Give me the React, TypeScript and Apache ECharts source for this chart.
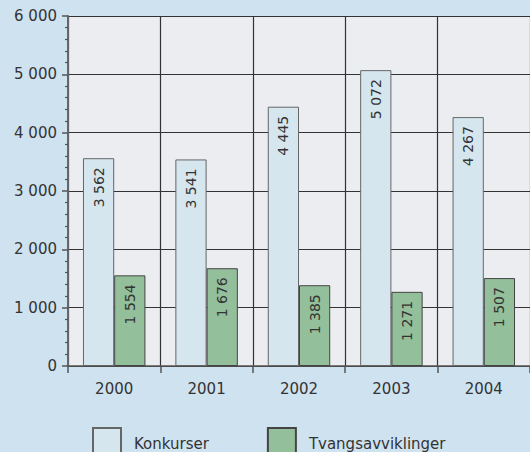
import React, { useEffect, useRef } from "react";
import * as echarts from "echarts";

const years = ["2000", "2001", "2002", "2003", "2004"];
const konkurser = [3562, 3541, 4445, 5072, 4267];
const tvangsavviklinger = [1554, 1676, 1385, 1271, 1507];
const seriesNames = ["Konkurser", "Tvangsavviklinger"];

const FONT = "DejaVu Sans";
const fmt = (v: number) => String(v).replace(/\B(?=(\d{3})+(?!\d))/g, " ");

export default function App() {
  const ref = useRef<HTMLDivElement>(null);
  useEffect(() => {
    if (!ref.current) return;
    const chart = echarts.init(ref.current, undefined, { renderer: "svg" });
    const label = {
      show: true,
      position: "insideTop",
      rotate: 90,
      align: "right",
      verticalAlign: "middle",
      distance: 9,
      fontFamily: FONT,
      fontSize: 14,
      color: "#333",
      formatter: (p: any) => fmt(p.value),
    };
    chart.setOption({
      animation: false,
      backgroundColor: "#cfe2f0",
      textStyle: { fontFamily: FONT },
      grid: {
        left: 68,
        top: 16,
        right: -4,
        bottom: 86,
        show: true,
        backgroundColor: "#ecedf0",
        borderWidth: 0,
      },
      legend: {
        data: seriesNames.map((n) => ({ name: n, icon: "rect" })),
        left: 92,
        top: 427,
        padding: 0,
        itemWidth: 28,
        itemHeight: 31,
        itemGap: 58,
        textStyle: { fontFamily: FONT, fontSize: 15, color: "#333", padding: [0, 0, 0, 8] },
      },
      xAxis: {
        type: "category",
        data: years,
        axisLine: { show: true, lineStyle: { color: "#555", width: 1.5 } },
        axisTick: { show: true, length: 7, lineStyle: { color: "#555", width: 1.5 } },
        splitLine: { show: true, lineStyle: { color: "#333", width: 1.2 } },
        axisLabel: { fontFamily: FONT, fontSize: 15, color: "#333", margin: 15 },
      },
      yAxis: {
        type: "value",
        min: 0,
        max: 6000,
        interval: 1000,
        axisLine: { show: true, lineStyle: { color: "#666", width: 2 } },
        axisTick: { show: true, length: 6, lineStyle: { color: "#555", width: 1.5 } },
        minorTick: { show: true, splitNumber: 5, length: 3, lineStyle: { color: "#555", width: 1.2 } },
        splitLine: { show: true, lineStyle: { color: "#333", width: 1.2 } },
        axisLabel: {
          fontFamily: FONT,
          fontSize: 15,
          color: "#333",
          margin: 11,
          formatter: (v: number) => fmt(v),
        },
      },
      series: [
        {
          name: seriesNames[0],
          type: "bar",
          data: konkurser,
          barWidth: "33.8%",
          barGap: "0%",
          itemStyle: { color: "#d5e6ef", borderColor: "#666", borderWidth: 1 },
          label,
        },
        {
          name: seriesNames[1],
          type: "bar",
          data: tvangsavviklinger,
          barWidth: "33.8%",
          barGap: "0%",
          itemStyle: { color: "#93bf9b", borderColor: "#444", borderWidth: 1 },
          label,
        },
      ],
    });
    return () => chart.dispose();
  }, []);
  return <div ref={ref} style={{ width: 530, height: 452, position: "fixed", left: 0, top: 0 }} />;
}
